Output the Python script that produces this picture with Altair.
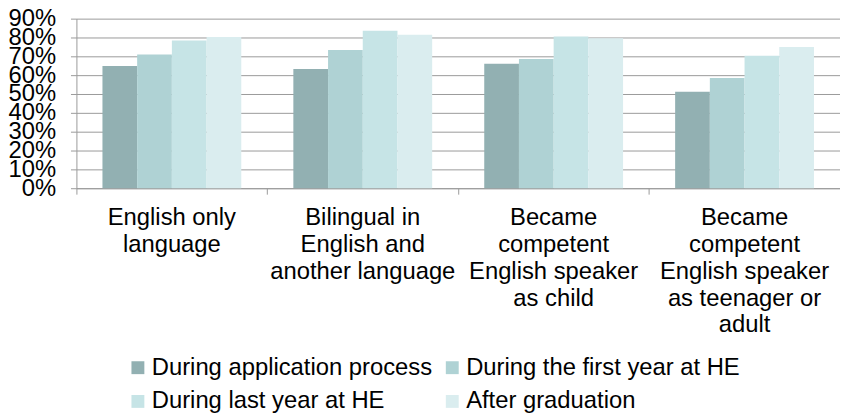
import altair as alt
import pandas as pd

categories = [
    "English only|language",
    "Bilingual in|English and|another language",
    "Became|competent|English speaker|as child",
    "Became|competent|English speaker|as teenager or|adult",
]
series = [
    "During application process",
    "During the first year at HE",
    "During last year at HE",
    "After graduation",
]
colors = ["#92B0B2", "#AFD2D4", "#C6E4E6", "#DAEDEF"]

application = [0.648, 0.633, 0.660, 0.512]
first_year = [0.710, 0.733, 0.686, 0.585]
last_year = [0.784, 0.836, 0.805, 0.703]
after_grad = [0.802, 0.814, 0.796, 0.750]

values = [application, first_year, last_year, after_grad]
rows = []
for s, vals in zip(series, values):
    for c, v in zip(categories, vals):
        rows.append({"category": c, "series": s, "value": v})
df = pd.DataFrame(rows)

FONT = "Liberation Sans"
GRID = "#9A9A9A"
W = 770

chart = alt.Chart(df).mark_bar().encode(
    x=alt.X(
        "category:N",
        sort=categories,
        title=None,
        scale=alt.Scale(paddingInner=0, paddingOuter=0),
        axis=alt.Axis(
            labelExpr="split(datum.label, '|')",
            labelAngle=0,
            labelAlign="center",
            labelBaseline="top",
            labelFontSize=24,
            labelFont=FONT,
            labelColor="#000000",
            labelLineHeight=27,
            labelPadding=12,
            labelLimit=0,
            labelOverlap=False,
            bandPosition=0,
            tickSize=6,
            tickColor=GRID,
            domainColor=GRID,
            grid=False,
        ),
    ),
    xOffset=alt.XOffset(
        "series:N",
        sort=series,
        scale=alt.Scale(paddingInner=0, paddingOuter=0.75),
    ),
    y=alt.Y(
        "value:Q",
        title=None,
        scale=alt.Scale(domain=[0, 0.9], nice=False),
        axis=alt.Axis(
            values=[0, 0.1, 0.2, 0.3, 0.4, 0.5, 0.6, 0.7, 0.8, 0.9],
            format=".0%",
            labelFontSize=24,
            labelFont=FONT,
            labelColor="#000000",
            labelPadding=15,
            labelOverlap=False,
            labelBound=False,
            labelFlush=False,
            tickSize=6,
            tickColor=GRID,
            domainColor=GRID,
            gridColor=GRID,
            gridWidth=1,
        ),
    ),
    color=alt.Color(
        "series:N",
        sort=series,
        scale=alt.Scale(domain=series, range=colors),
        legend=alt.Legend(
            title=None,
            orient="none",
            direction="horizontal",
            legendX=50,
            legendY=340,
            columns=2,
            symbolType="square",
            symbolSize=169,
            symbolStrokeWidth=0,
            labelFontSize=24,
            labelFont=FONT,
            labelColor="#000000",
            labelOffset=2,
            columnPadding=8,
            rowPadding=10,
            labelLimit=0,
        ),
    ),
).properties(
    width=W,
    height=171,
    autosize=alt.AutoSizeParams(type="none"),
    padding={"left": 69, "top": 9, "right": 0, "bottom": 230},
).configure_view(stroke=None)

chart.save("out.html", embed_options={"renderer": "svg", "actions": False})
